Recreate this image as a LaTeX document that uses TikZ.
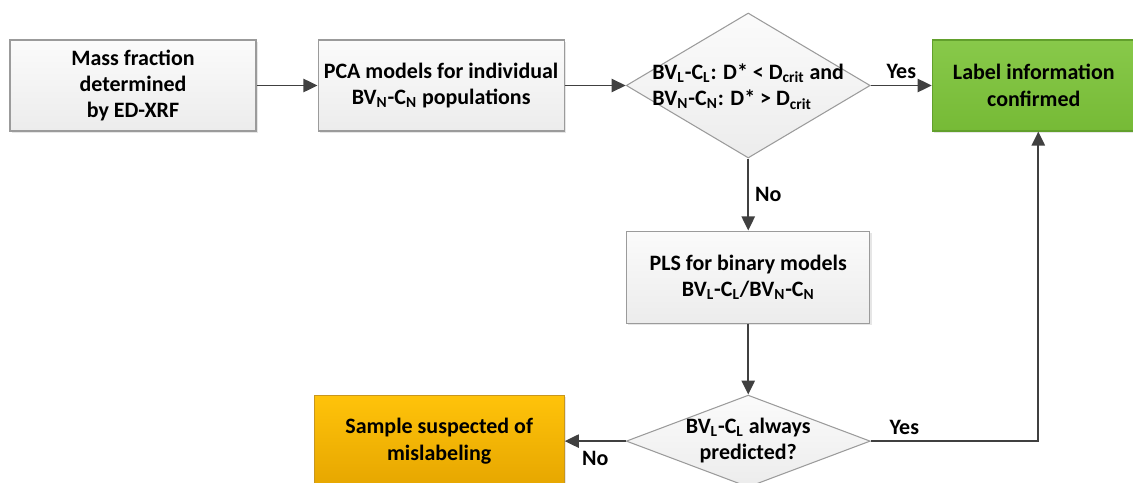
\documentclass[tikz,border=0pt]{standalone}
\usepackage{fontspec}
\setmainfont{Carlito}
\usetikzlibrary{arrows.meta, shapes, positioning, shadows}

\definecolor{boxline}{RGB}{155,155,155}
\definecolor{boxtop}{RGB}{251,251,251}
\definecolor{boxbottom}{RGB}{236,236,236}
\definecolor{greentop}{RGB}{136,201,74}
\definecolor{greenbottom}{RGB}{118,186,54}
\definecolor{greenline}{RGB}{98,160,44}
\definecolor{orangetop}{RGB}{255,195,10}
\definecolor{orangebottom}{RGB}{230,166,0}
\definecolor{orangeline}{RGB}{200,150,30}
\definecolor{arrowgray}{RGB}{64,64,64}

\begin{document}
\begin{tikzpicture}[font=\bfseries\fontsize{12.5}{15}\selectfont,node distance=1.22cm,>={Triangle[length=8pt,width=7.5pt]},line width=1.1pt]
	
	\tikzset{node box/.style={rectangle, draw=boxline, line width=0.6pt,
			top color=boxtop, bottom color=boxbottom,
			minimum width=4.92cm, minimum height=1.82cm, align=center,
			drop shadow={opacity=0.2, shadow xshift=1pt, shadow yshift=-1pt}}}
	\tikzset{node dec/.style={diamond, draw=boxline, line width=0.6pt,
			top color=boxtop, bottom color=boxbottom,
			minimum width=4.88cm, minimum height=2.9cm, inner sep=0pt}}
	\tikzset{arr/.style={->, draw=arrowgray}}
	
	\useasboundingbox (0,0) rectangle (22.66,-9.64);
	
	\node[node box] (xrf) at (2.66,-1.71) {Mass fraction\\determined\\by ED-XRF};
	\node[node box, right=of xrf] (pca) {PCA models for individual\\BV\textsubscript{N}-C\textsubscript{N} populations};
	\node[node dec, right=of pca] (dcrit) {\makebox[0pt]{\smash{\raisebox{-4pt}{\begin{tabular}{@{}l@{}}BV\textsubscript{L}-C\textsubscript{L}: D* < D\textsubscript{crit} and\\BV\textsubscript{N}-C\textsubscript{N}: D* > D\textsubscript{crit}\end{tabular}}}}};
	\node[node box, right=of dcrit, minimum width=4.06cm, top color=greentop, bottom color=greenbottom, draw=greenline] (label) {Label information\\confirmed};
	
	\node[node box, below=1.44cm of dcrit, minimum width=4.86cm, minimum height=1.84cm] (pls) {PLS for binary models\\BV\textsubscript{L}-C\textsubscript{L}/BV\textsubscript{N}-C\textsubscript{N}};
	\node[node dec, below=1.42cm of pls, minimum height=1.84cm] (always) {\makebox[0pt]{\smash{\raisebox{-3pt}{\begin{tabular}{@{}c@{}}BV\textsubscript{L}-C\textsubscript{L} always\\predicted?\end{tabular}}}}};
	\node[node box, left=of always, minimum width=5cm, minimum height=1.84cm, top color=orangetop, bottom color=orangebottom, draw=orangeline] (suspect) {Sample suspected of\\mislabeling};
	
	\draw[arr] (xrf) -- (pca);
	\draw[arr] (pca) -- (dcrit);
	\draw[arr] (dcrit) -- node[above, text=black] {Yes} (label);
	\draw[arr] (dcrit) -- node[right, text=black] {No} (pls);
	\draw[arr] (pls) -- (always);
	\draw[arr] (always) -- node[below=2pt, text=black] {No} (suspect);
	\draw[arr] (always.east) -| ([xshift=0.09cm]label.south) node[pos=0.1, above, text=black] {Yes};
	
\end{tikzpicture}
\end{document}
